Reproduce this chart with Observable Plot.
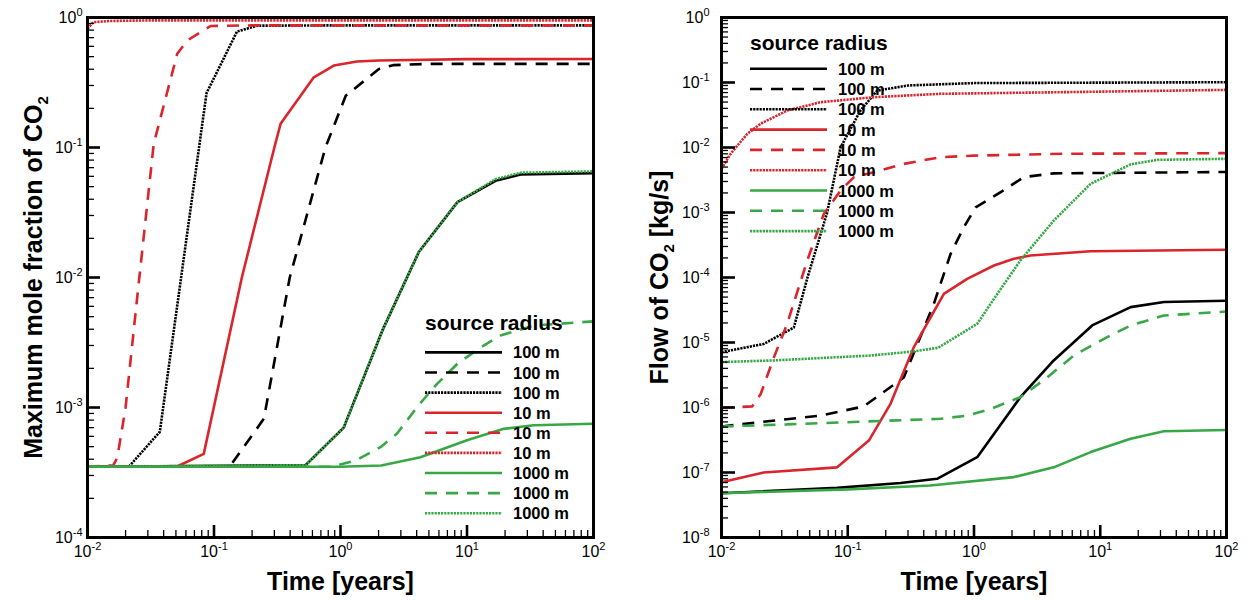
<!DOCTYPE html>
<html><head><meta charset="utf-8">
<script src="https://cdn.jsdelivr.net/npm/d3@7"></script>
<script src="https://cdn.jsdelivr.net/npm/@observablehq/plot@0.6"></script>
<style>
body{margin:0;background:#fff;}
#wrap{position:relative;width:1251px;height:601px;overflow:hidden;font-family:"Liberation Sans",Arial,Helvetica,sans-serif;}
#wrap svg{position:absolute;top:0;}
</style></head><body><div id="wrap"></div>
<script>
// ---------- tick values ----------
const timeMajor = [0.01, 0.1, 1, 10, 100];
const moleMajor = [1e-4, 1e-3, 1e-2, 1e-1, 1];
const flowMajor = [1e-8, 1e-7, 1e-6, 1e-5, 1e-4, 1e-3, 1e-2, 1e-1, 1];
const minorMultipliers = [2, 3, 4, 5, 6, 7, 8, 9];

// ---------- legend ----------
const legendTitle = "source radius";
const radiusLabels = ["100 m", "100 m", "100 m", "10 m", "10 m", "10 m", "1000 m", "1000 m", "1000 m"];

// ---------- left panel: maximum mole fraction of CO2 [time(years), value] ----------
const mole100Solid  = [[0.01,3.5e-4],[0.53,3.6e-4],[1.06,7e-4],[2.14,3.9e-3],[4.16,0.0157],[8.4,0.038],[16.8,0.0555],[26.5,0.062],[100,0.0635]];
const mole100Dashed = [[0.01,3.5e-4],[0.133,3.5e-4],[0.248,8.2e-4],[0.397,0.01],[0.76,0.1],[1.1,0.25],[2.0,0.40],[2.6,0.43],[5,0.44],[100,0.44]];
const mole100Dotted = [[0.01,3.5e-4],[0.0212,3.5e-4],[0.0373,6.5e-4],[0.0873,0.262],[0.152,0.78],[0.22,0.865],[1,0.87],[100,0.87]];
const mole10Solid   = [[0.01,3.5e-4],[0.0506,3.5e-4],[0.083,4.4e-4],[0.166,0.01],[0.30,0.1],[0.336,0.152],[0.615,0.347],[0.885,0.427],[1.35,0.459],[2,0.467],[10,0.478],[100,0.48]];
const mole10Dashed  = [[0.01,3.5e-4],[0.016,3.6e-4],[0.0172,4.1e-4],[0.02,1e-3],[0.0247,7e-3],[0.0334,0.107],[0.0512,0.526],[0.0614,0.665],[0.094,0.86],[0.2,0.87],[100,0.87]];
const mole10Dotted  = [[0.01,0.82],[0.0111,0.92],[0.015,0.94],[0.03,0.95],[100,0.95]];
const mole1000Solid = [[0.01,3.5e-4],[1,3.5e-4],[2.1,3.58e-4],[4.28,4.15e-4],[10,5.6e-4],[19.5,6.85e-4],[33.7,7.3e-4],[100,7.5e-4]];
const mole1000Dashed= [[0.01,3.5e-4],[0.85,3.5e-4],[1.31,3.9e-4],[2.07,4.95e-4],[2.8,6.3e-4],[4.1,1.03e-3],[5.8,1.52e-3],[8.4,2.17e-3],[12.8,2.9e-3],[18.4,3.58e-3],[33.7,4.27e-3],[100,4.6e-3]];
const mole1000Dotted= [[0.01,3.5e-4],[0.53,3.6e-4],[1.06,7e-4],[2.14,3.9e-3],[4.16,0.0157],[8.4,0.038],[16.8,0.057],[26.5,0.064],[100,0.0655]];

// ---------- right panel: flow of CO2 [kg/s] ----------
const flow100Solid  = [[0.01,4.8e-8],[0.0824,5.8e-8],[0.262,6.9e-8],[0.51,8e-8],[1.06,1.72e-7],[2.33,1.44e-6],[4.28,5.3e-6],[8.63,1.83e-5],[17.4,3.5e-5],[32,4.2e-5],[100,4.4e-5]];
const flow100Dashed = [[0.01,5.1e-7],[0.0244,6.2e-7],[0.061,7.5e-7],[0.134,1.04e-6],[0.278,2.9e-6],[0.48,3.9e-5],[0.652,2.3e-4],[0.83,5.9e-4],[1.03,1.2e-3],[1.72,2.2e-3],[2.48,3.5e-3],[4.28,4.0e-3],[100,4.2e-3]];
const flow100Dotted = [[0.01,7.1e-6],[0.0216,9.5e-6],[0.0374,1.7e-5],[0.048,1e-4],[0.0687,1e-3],[0.0877,0.01],[0.126,0.037],[0.171,0.075],[0.3,0.09],[1,0.098],[100,0.101]];
const flow10Solid   = [[0.01,7.1e-8],[0.0216,1.0e-7],[0.0824,1.2e-7],[0.147,3.1e-7],[0.218,1.14e-6],[0.334,8.5e-6],[0.577,5.6e-5],[0.883,9.5e-5],[1.44,1.53e-4],[2.07,1.94e-4],[2.8,2.18e-4],[8.4,2.54e-4],[100,2.67e-4]];
const flow10Dashed  = [[0.01,9.9e-7],[0.0175,1.04e-6],[0.0204,1.6e-6],[0.026,5.9e-6],[0.033,1.9e-5],[0.0478,1.83e-4],[0.0646,9.5e-4],[0.0877,2.18e-3],[0.112,3.5e-3],[0.18,4.4e-3],[0.278,5.6e-3],[0.543,7.1e-3],[1.0,7.5e-3],[5,8e-3],[100,8.2e-3]];
const flow10Dotted  = [[0.01,4.7e-3],[0.0118,8e-3],[0.016,0.0162],[0.0204,0.0232],[0.0331,0.037],[0.0608,0.0498],[0.161,0.0594],[0.543,0.067],[5.1,0.071],[100,0.077]];
const flow1000Solid = [[0.01,4.8e-8],[0.1,5.5e-8],[0.45,6.3e-8],[2.07,8.5e-8],[4.28,1.2e-7],[8.4,2.06e-7],[17.4,3.3e-7],[31.9,4.3e-7],[100,4.5e-7]];
const flow1000Dashed= [[0.01,5.1e-7],[0.033,5.5e-7],[0.543,6.7e-7],[0.883,7.5e-7],[1.35,9.5e-7],[2.33,1.44e-6],[3.8,2.9e-6],[6.17,6.3e-6],[10.7,1.14e-5],[17.4,1.83e-5],[31.9,2.6e-5],[100,3.0e-5]];
const flow1000Dotted= [[0.01,5.0e-6],[0.026,5.3e-6],[0.151,6.3e-6],[0.334,7.3e-6],[0.52,8.3e-6],[1.06,1.94e-5],[1.44,4.7e-5],[2.33,1.83e-4],[4.28,7.5e-4],[8.37,2.76e-3],[17.4,5.5e-3],[28.3,6.46e-3],[100,6.7e-3]];

// ---------- styles ----------
const RED = "#d9252b", GREEN = "#38a846", BLACK = "#000";
const seriesColors = [BLACK, BLACK, BLACK, RED, RED, RED, GREEN, GREEN, GREEN];
const DASH = "12,9", DOT = "2.2,1";
const seriesDash = [null, DASH, DOT, null, DASH, DOT, null, DASH, DOT];
const FONT = "'Liberation Sans', Arial, Helvetica, sans-serif";

const moleSeries = [mole100Solid, mole100Dashed, mole100Dotted, mole10Solid, mole10Dashed, mole10Dotted, mole1000Solid, mole1000Dashed, mole1000Dotted];
const flowSeries = [flow100Solid, flow100Dashed, flow100Dotted, flow10Solid, flow10Dashed, flow10Dotted, flow1000Solid, flow1000Dashed, flow1000Dotted];

const minorOf = majors => majors.slice(0, -1).flatMap(d => minorMultipliers.map(k => d * k));
const powFmt = d => "10^" + Math.round(Math.log10(d));

function panel({series, yMajor, width, ml, mr, yLabel, labelDx, yTickPad, yMajLen, yMinLen}) {
  const H = 601, mt = 17, mb = 64;
  const ph = H - mt - mb, pw = width - ml - mr;
  const lines = series.map((s, i) => Plot.line(s, {
    x: d => d[0], y: d => d[1], stroke: seriesColors[i], strokeWidth: 2.6,
    strokeDasharray: seriesDash[i] || undefined, strokeLinejoin: "miter", strokeLinecap: "butt"
  }));
  return Plot.plot({
    width, height: H, marginTop: mt, marginBottom: mb, marginLeft: ml, marginRight: mr,
    style: {fontFamily: FONT, background: "transparent", overflow: "visible", color: "black"},
    x: {type: "log", domain: [0.01, 100]},
    y: {type: "log", domain: [yMajor[0], yMajor[yMajor.length - 1]]},
    marks: [
      ...lines,
      Plot.tickX(minorOf(timeMajor), {x: d => d, insetTop: ph - 7, strokeWidth: 1.3}),
      Plot.tickX(timeMajor, {x: d => d, insetTop: ph - 12, strokeWidth: 2.6}),
      Plot.tickY(minorOf(yMajor), {y: d => d, insetRight: pw - yMinLen, strokeWidth: 1.3}),
      Plot.tickY(yMajor, {y: d => d, insetRight: pw - yMajLen, strokeWidth: 2.6}),
      Plot.axisX({ticks: timeMajor, tickSize: 0, tickPadding: 8, fontSize: 16, tickFormat: powFmt, label: null}),
      Plot.axisY({ticks: yMajor, tickSize: 0, tickPadding: yTickPad, fontSize: 16, tickFormat: powFmt, label: null}),
      Plot.frame({stroke: "black", strokeWidth: 3}),
      Plot.text(["Time [years]"], {frameAnchor: "bottom", dy: 52, lineAnchor: "bottom", fontSize: 25, fontWeight: "bold"}),
      Plot.text([yLabel], {frameAnchor: "left", rotate: -90, dx: labelDx, textAnchor: "middle", lineAnchor: "bottom", fontSize: 25, fontWeight: "bold"})
    ]
  });
}

function richify(svg) {
  d3.select(svg).selectAll("text").each(function() {
    const t = this.textContent;
    const sel = d3.select(this);
    let m = /^10\^(-?\d+)$/.exec(t);
    if (m) {
      sel.text("");
      sel.append("tspan").text("10");
      sel.append("tspan").attr("dy", -7).attr("font-size", 11).text(m[1]);
      return;
    }
    if (t.includes("_2")) {
      const [a, b] = t.split("_2");
      sel.text("");
      sel.append("tspan").text(a);
      sel.append("tspan").attr("dy", 6).attr("font-size", 15).text("2");
      sel.append("tspan").attr("dy", -6).text(b);
    }
  });
}

const wrap = document.getElementById("wrap");
const left = panel({series: moleSeries, yMajor: moleMajor, width: 600, ml: 87, mr: 7,
  yLabel: "Maximum mole fraction of CO_2", labelDx: -46, yTickPad: 5, yMajLen: 13, yMinLen: 7});
left.style.left = "0px";
richify(left);
wrap.appendChild(left);

const right = panel({series: flowSeries, yMajor: flowMajor, width: 621, ml: 91, mr: 25,
  yLabel: "Flow of CO_2 [kg/s]", labelDx: -54, yTickPad: 12, yMajLen: 14, yMinLen: 7});
right.style.left = "630px";
richify(right);
wrap.appendChild(right);

// ---------- legends ----------
const leg = d3.select(wrap).append("svg").attr("width", 1251).attr("height", 601)
  .style("left", "0px").style("pointer-events", "none")
  .attr("font-family", FONT).attr("font-weight", "bold");
function legend(x0, titleBase, row0, step, textX) {
  leg.append("text").attr("x", x0).attr("y", titleBase).attr("font-size", 21).text(legendTitle);
  radiusLabels.forEach((lab, i) => {
    const cy = row0 + i * step;
    leg.append("line").attr("x1", x0).attr("x2", x0 + 77).attr("y1", cy).attr("y2", cy)
      .attr("stroke", seriesColors[i]).attr("stroke-width", 2.6)
      .attr("stroke-dasharray", seriesDash[i]);
    leg.append("text").attr("x", textX).attr("y", cy + 6).attr("font-size", 16.5).text(lab);
  });
}
legend(425, 330, 352.4, 20.1, 513);
legend(750, 50, 68.7, 20.3, 838);
</script></body></html>
